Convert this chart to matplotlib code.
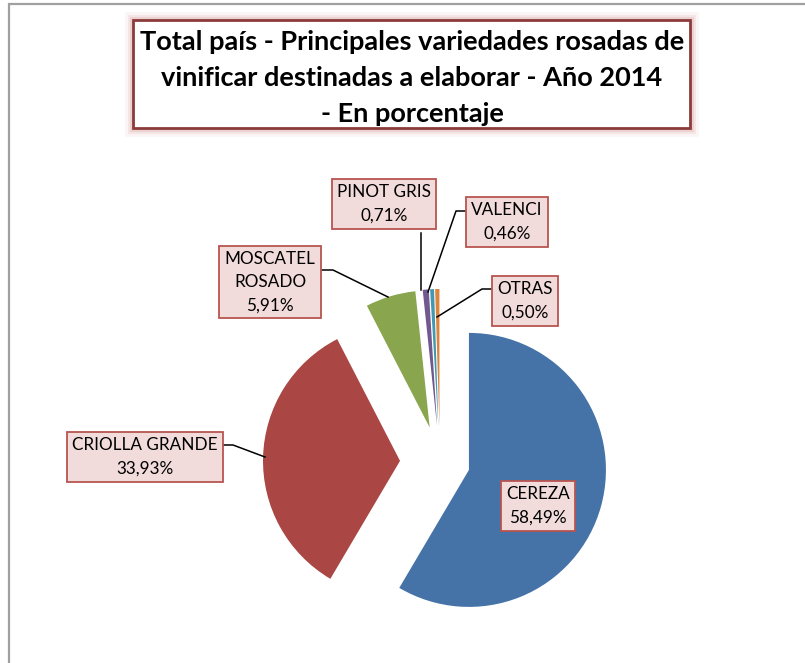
import matplotlib.pyplot as plt
from matplotlib.patches import Rectangle

# datos
varieties = ['CEREZA', 'CRIOLLA GRANDE', 'MOSCATEL\nROSADO', 'PINOT GRIS', 'VALENCI', 'OTRAS']
shares = [58.49, 33.93, 5.91, 0.71, 0.46, 0.50]
colors = ['#4572A7', '#AA4643', '#89A54E', '#71588F', '#4198AF', '#DB843D']
explode = [30, 40, 36, 36, 36, 36]  # px offsets

title = ('Total país - Principales variedades rosadas de\n'
         'vinificar destinadas a elaborar - Año 2014\n'
         '- En porcentaje')

W, H = 805, 663
plt.rcParams['font.family'] = ['Lato', 'DejaVu Sans']

fig = plt.figure(figsize=(W / 100, H / 100), dpi=100)
ax = fig.add_axes([0, 0, 1, 1])


def py(y):
    return H - y


ax.pie(shares, colors=colors, explode=explode, startangle=90, counterclock=False,
       radius=137, center=(440, py(462)), wedgeprops=dict(linewidth=0))
ax.set_xlim(0, W)
ax.set_ylim(0, H)
ax.set_aspect('equal')
ax.axis('off')

# outer chart border
ax.plot([9, 9, W], [0, py(4), py(4)], color='#A0A0A0', lw=1.6, solid_joinstyle='miter')

# title box with glow
for lw, a in [(12, 0.08), (8, 0.12), (5, 0.2)]:
    ax.add_patch(Rectangle((133, py(128)), 557, 108, fill=False, ec='#D08080', lw=lw, alpha=a))
ax.add_patch(Rectangle((133, py(128)), 557, 108, fc='white', ec='#8C3B3B', lw=2))
ax.text(412, py(78), title, ha='center', va='center', fontsize=19.5,
        fontweight='bold', linespacing=1.58, color='black')

# labels
label_pos = [(538, 506), (145, 457), (270, 282), (384, 204), (507, 222), (525, 301)]
for name, v, (x, y) in zip(varieties, shares, label_pos):
    txt = f'{name}\n{v:.2f}'.replace('.', ',') + '%'
    ax.text(x, py(y), txt, ha='center', va='center', fontsize=12.3, linespacing=1.55,
            bbox=dict(boxstyle='square,pad=0.3', fc='#F2DCDB', ec='#B85450', lw=1.3))

# leader lines
leaders = [
    [(222, 445), (233, 445), (265, 457)],
    [(322, 270), (333, 270), (388, 297)],
    [(421, 233), (421, 290)],
    [(465, 211), (456, 211), (428, 292)],
    [(491, 289), (482, 289), (437, 317)],
]
for pts in leaders:
    ax.plot([p[0] for p in pts], [py(p[1]) for p in pts], color='black', lw=1.1)

fig.savefig('out.png', dpi=100)
